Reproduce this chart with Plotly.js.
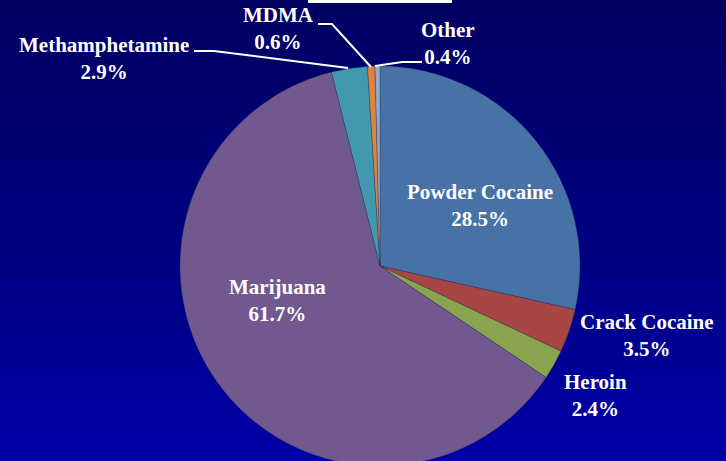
<!DOCTYPE html>
<html><head><meta charset="utf-8">
<script src="https://cdn.plot.ly/plotly-3.0.1.min.js"></script>
<style>
html,body{margin:0;padding:0;width:726px;height:461px;overflow:hidden;background:#000080;}
#bg{position:absolute;left:0;top:0;width:726px;height:461px;background:linear-gradient(to bottom,#000062 0%,#00007e 50%,#0000a8 100%);}
#chart{position:absolute;left:0;top:0;width:726px;height:472px;}
</style></head>
<body><div id="bg"></div><div id="chart"></div>
<script>
const categories = ["Powder Cocaine","Crack Cocaine","Heroin","Marijuana","Methamphetamine","MDMA","Other"];
const shares = [28.5, 3.5, 2.4, 61.7, 2.9, 0.6, 0.4];
const colors = ["#4672A6","#A74645","#89A54E","#71588F","#4198AF","#DB843D","#93A9CF"];

const W = 726, H = 472;
const px = (x) => x / W;
const py = (y) => 1 - y / H;

const labelPos = {
  "Powder Cocaine": [480, 205],
  "Crack Cocaine": [647, 335],
  "Heroin": [595, 395],
  "Marijuana": [277, 300],
  "Methamphetamine": [104, 58],
  "MDMA": [278, 29],
  "Other": [448, 44]
};

const annotations = categories.map((c, i) => ({
  xref: 'paper', yref: 'paper',
  x: px(labelPos[c][0]), y: py(labelPos[c][1]),
  xanchor: 'center', yanchor: 'middle',
  text: '<b>' + c + '<br>' + shares[i].toFixed(1) + '%</b>',
  showarrow: false,
  font: {family: '"Liberation Serif", "Times New Roman", serif', size: 21, color: '#ffffff'}
}));

function path(pts){
  return 'M' + pts.map(p => px(p[0]) + ',' + py(p[1])).join(' L');
}
const leader = {type:'path', xref:'paper', yref:'paper', line:{color:'#ffffff', width:2}};
const shapes = [
  Object.assign({}, leader, {path: path([[194,51],[214,51],[348,68]])}),
  Object.assign({}, leader, {path: path([[318,24],[332,24],[371,67]])}),
  Object.assign({}, leader, {path: path([[375,66],[402,62],[422,62]])}),
  {type:'rect', xref:'paper', yref:'paper', x0:px(308), x1:px(452), y0:py(3), y1:py(-5), fillcolor:'#ffffff', line:{width:0}}
];

const trace = {
  type: 'pie',
  labels: categories,
  values: shares,
  sort: false,
  direction: 'clockwise',
  rotation: 0,
  textinfo: 'none',
  hoverinfo: 'label+percent',
  marker: {colors: colors, line: {color: 'rgba(40,40,80,0.5)', width: 0.6}},
  domain: {x: [px(180), px(580)], y: [py(466), py(66)]},
  showlegend: false
};

Plotly.newPlot('chart', [trace], {
  width: W, height: H,
  margin: {l:0, r:0, t:0, b:0},
  paper_bgcolor: 'rgba(0,0,0,0)',
  plot_bgcolor: 'rgba(0,0,0,0)',
  showlegend: false,
  annotations: annotations,
  shapes: shapes
}, {displayModeBar: false, staticPlot: true});
</script></body></html>
